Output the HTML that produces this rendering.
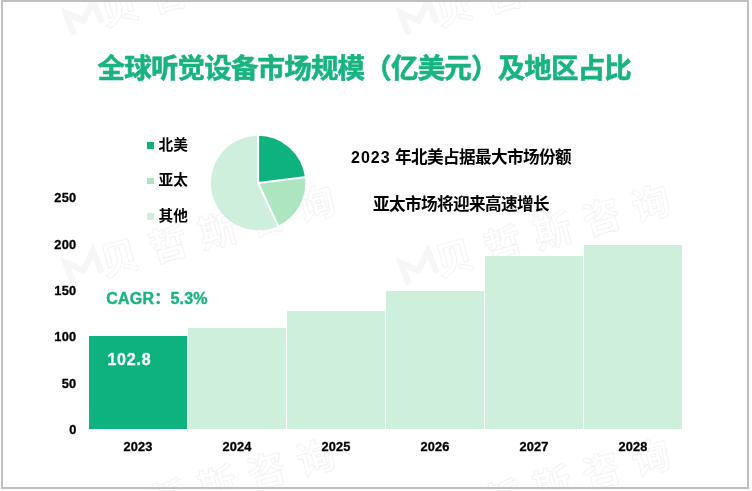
<!DOCTYPE html>
<html lang="zh-CN">
<head>
<meta charset="utf-8">
<title>全球听觉设备市场规模（亿美元）及地区占比</title>
<style>
html,body{margin:0;padding:0;background:#fff;}
body{width:752px;height:491px;position:relative;overflow:hidden;
  font-family:"Liberation Sans","Noto Sans CJK SC",sans-serif;font-weight:bold;color:#000;}
.root{position:relative;width:752px;height:491px;overflow:hidden;background:#fff;}
.frame{position:absolute;left:1px;top:0;width:744px;height:485px;border:2px solid #bfbfbf;background:transparent;z-index:10;pointer-events:none;}
.t{position:absolute;white-space:nowrap;line-height:1;}
.title{left:97.6px;top:54.8px;font-size:27.5px;letter-spacing:-0.83px;color:#19b382;-webkit-text-stroke:0.6px #19b382;}
.ax{font-size:12.8px;text-align:right;width:40px;left:36.6px;letter-spacing:0.35px;-webkit-text-stroke:0.3px #000;}
.xl{font-size:12.8px;text-align:center;width:98px;top:441px;letter-spacing:0.1px;-webkit-text-stroke:0.3px #000;}
.bar{position:absolute;background:#ceefdb;width:98px;}
.lg{font-size:14.67px;left:158.6px;}
.sq{position:absolute;left:147px;width:6.5px;height:6.5px;}
.note{font-size:16.6px;letter-spacing:-0.6px;text-align:center;width:300px;left:311px;}
.wm{position:absolute;white-space:nowrap;height:40px;line-height:40px;font-size:38px;transform:rotate(-15.5deg);transform-origin:0 50%;font-weight:bold;}
.wm svg{display:inline-block;vertical-align:top;}
.wm span{display:inline-block;vertical-align:top;color:transparent;-webkit-text-stroke:1px #f3f3f3;letter-spacing:13px;margin-left:-1px;position:relative;top:2px;}
</style>
</head>
<body>
<div class="root">
<div class="frame"></div>

<div class="wm" style="left:64.8px;top:2.1px;"><svg width="38" height="40" viewBox="0 -2 42 44"><path d="M6,36 L3,10 L20,24 L36,6 L39,32" fill="none" stroke="#f6f6f6" stroke-width="7" stroke-linejoin="miter"/></svg><span>贝哲斯咨询</span></div>
<div class="wm" style="left:399.8px;top:2.1px;"><svg width="38" height="40" viewBox="0 -2 42 44"><path d="M6,36 L3,10 L20,24 L36,6 L39,32" fill="none" stroke="#f6f6f6" stroke-width="7" stroke-linejoin="miter"/></svg><span>贝哲斯咨询</span></div>
<div class="wm" style="left:64.8px;top:252.1px;"><svg width="38" height="40" viewBox="0 -2 42 44"><path d="M6,36 L3,10 L20,24 L36,6 L39,32" fill="none" stroke="#f6f6f6" stroke-width="7" stroke-linejoin="miter"/></svg><span>贝哲斯咨询</span></div>
<div class="wm" style="left:399.8px;top:252.1px;"><svg width="38" height="40" viewBox="0 -2 42 44"><path d="M6,36 L3,10 L20,24 L36,6 L39,32" fill="none" stroke="#f6f6f6" stroke-width="7" stroke-linejoin="miter"/></svg><span>贝哲斯咨询</span></div>
<div class="wm" style="left:64.8px;top:506.1px;"><svg width="38" height="40" viewBox="0 -2 42 44"><path d="M6,36 L3,10 L20,24 L36,6 L39,32" fill="none" stroke="#f6f6f6" stroke-width="7" stroke-linejoin="miter"/></svg><span>贝哲斯咨询</span></div>
<div class="wm" style="left:399.8px;top:506.1px;"><svg width="38" height="40" viewBox="0 -2 42 44"><path d="M6,36 L3,10 L20,24 L36,6 L39,32" fill="none" stroke="#f6f6f6" stroke-width="7" stroke-linejoin="miter"/></svg><span>贝哲斯咨询</span></div>

<div class="t title">全球听觉设备市场规模（亿美元）及地区占比</div>

<!-- y axis -->
<div class="t ax" style="top:192.2px;">250</div>
<div class="t ax" style="top:238.6px;">200</div>
<div class="t ax" style="top:285px;">150</div>
<div class="t ax" style="top:331.4px;">100</div>
<div class="t ax" style="top:377.8px;">50</div>
<div class="t ax" style="top:424.2px;">0</div>

<!-- bars -->
<div class="bar" style="left:89px;top:336px;height:93px;background:#0db27f;"></div>
<div class="bar" style="left:188px;top:328px;height:101px;"></div>
<div class="bar" style="left:287px;top:311px;height:118px;"></div>
<div class="bar" style="left:386px;top:291px;height:138px;"></div>
<div class="bar" style="left:485px;top:256px;height:173px;"></div>
<div class="bar" style="left:584px;top:245px;height:184px;"></div>

<div class="t" style="left:107.4px;top:352px;font-size:16px;color:#fff;letter-spacing:0.8px;-webkit-text-stroke:0.3px #fff;">102.8</div>
<div class="t" style="left:106.3px;top:291px;font-size:16px;color:#19b382;letter-spacing:0.2px;-webkit-text-stroke:0.4px #19b382;">CAGR：5.3%</div>

<!-- x axis labels -->
<div class="t xl" style="left:89px;">2023</div>
<div class="t xl" style="left:188px;">2024</div>
<div class="t xl" style="left:287px;">2025</div>
<div class="t xl" style="left:386px;">2026</div>
<div class="t xl" style="left:485px;">2027</div>
<div class="t xl" style="left:584px;">2028</div>

<!-- legend -->
<div class="sq" style="top:142px;background:#0db27f;"></div>
<div class="sq" style="top:177.5px;background:#ace5c0;"></div>
<div class="sq" style="top:213px;background:#ceefdb;"></div>
<div class="t lg" style="top:137.6px;">北美</div>
<div class="t lg" style="top:173px;">亚太</div>
<div class="t lg" style="top:208.6px;">其他</div>

<!-- pie -->
<svg style="position:absolute;left:208px;top:133px;" width="100" height="100" viewBox="208 133 100 100">
  <path fill="#0db27f" d="M258.10,183.00L258.10,135.80A47.2,47.2 0 0 1 304.95,177.25Z"/>
  <path fill="#ace5c0" d="M258.10,183.00L304.95,177.25A47.2,47.2 0 0 1 278.05,225.78Z"/>
  <path fill="#ceefdb" d="M258.10,183.00L278.05,225.78A47.2,47.2 0 1 1 258.10,135.80Z"/>
  <path fill="none" stroke="#fff" stroke-width="2" stroke-linejoin="round" d="M258.10,134.30L258.1,183.0L306.44,177.06M258.1,183.0L278.68,227.14"/>
</svg>

<!-- notes -->
<div class="t note" style="top:149.7px;"><span style="letter-spacing:1px;font-size:16px;">2023</span><span style="letter-spacing:0;font-size:16px;"> </span>年北美占据最大市场份额</div>
<div class="t note" style="top:197.3px;">亚太市场将迎来高速增长</div>
</div>
</body>
</html>
